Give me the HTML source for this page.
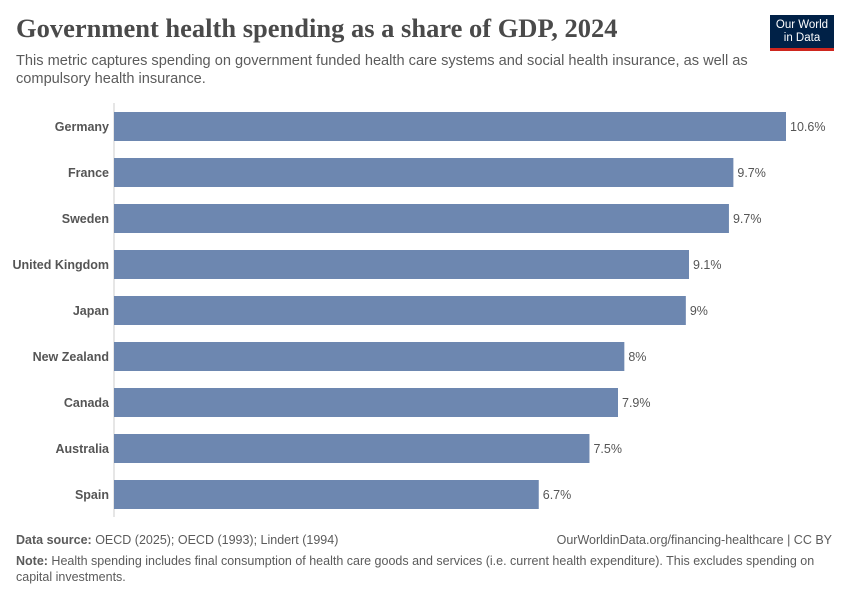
<!DOCTYPE html>
<html><head><meta charset="utf-8"><style>
body{margin:0;width:850px;height:600px;background:#fff;font-family:"Liberation Sans",sans-serif;position:relative;overflow:hidden}
.t{position:absolute;white-space:nowrap}
</style></head><body>
<div class="t" style="left:16px;top:13px;font-family:'Liberation Serif',serif;font-size:26.5px;color:#4a4a4a;font-weight:bold">Government health spending as a share of GDP, 2024</div>
<div class="t" style="left:16px;top:52px;font-size:14.6px;color:#5b5b5b;line-height:18px;white-space:normal;width:750px">This metric captures spending on government funded health care systems and social health insurance, as well as compulsory health insurance.</div>
<div style="position:absolute;left:770px;top:15px;width:64px;height:36px;background:#002147;border-bottom:3px solid #ce261e;box-sizing:border-box;color:#fff;font-size:11.5px;line-height:13px;text-align:center;padding-top:4px">Our World<br>in Data</div>
<svg id="chart" width="850" height="600" style="position:absolute;left:0;top:0"></svg>
<div class="t" style="left:16px;top:533px;font-size:12.5px;color:#5b5b5b"><b>Data source:</b> OECD (2025); OECD (1993); Lindert (1994)</div>
<div class="t" style="right:18px;top:533px;font-size:12.5px;color:#5b5b5b">OurWorldinData.org/financing-healthcare | CC BY</div>
<div class="t" style="left:16px;top:554px;font-size:12.5px;color:#5b5b5b;white-space:normal;width:820px;line-height:15.5px"><b>Note:</b> Health spending includes final consumption of health care goods and services (i.e. current health expenditure). This excludes spending on capital investments.</div>
<script>
const categories=["Germany","France","Sweden","United Kingdom","Japan","New Zealand","Canada","Australia","Spain"];
const values=[10.6,9.77,9.7,9.07,9.02,8.05,7.95,7.5,6.7];
const labels=["10.6%","9.7%","9.7%","9.1%","9%","8%","7.9%","7.5%","6.7%"];
const svg=document.getElementById('chart');
const NS='http://www.w3.org/2000/svg';
const x0=114,xs=v=>x0+v*(672/10.6);
const yb=i=>112+i*46,bh=29;
const ax=document.createElementNS(NS,'line');


ax.setAttribute('x1',x0);ax.setAttribute('x2',x0);ax.setAttribute('y1',103);ax.setAttribute('y2',517);ax.setAttribute('stroke','#ccc');
svg.appendChild(ax);
categories.forEach((c,i)=>{
 const r=document.createElementNS(NS,'rect');
 
 
 r.setAttribute('x',x0);r.setAttribute('y',yb(i));r.setAttribute('width',xs(values[i])-x0);r.setAttribute('height',bh);r.setAttribute('fill','#6d87b0');
 svg.appendChild(r);
 const t=document.createElementNS(NS,'text');
 
 
 t.setAttribute('x',109);t.setAttribute('y',yb(i)+bh/2+4.5);t.setAttribute('text-anchor','end');
 t.setAttribute('font-size','12.5');t.setAttribute('font-weight','bold');t.setAttribute('fill','#555');t.setAttribute('font-family','Liberation Sans');
 t.textContent=c;svg.appendChild(t);
 const v=document.createElementNS(NS,'text');
 
 
 v.setAttribute('x',xs(values[i])+4);v.setAttribute('y',yb(i)+bh/2+4.5);
 v.setAttribute('font-size','12.5');v.setAttribute('fill','#555');v.setAttribute('font-family','Liberation Sans');
 v.textContent=labels[i];svg.appendChild(v);
});
</script>
</body></html>
